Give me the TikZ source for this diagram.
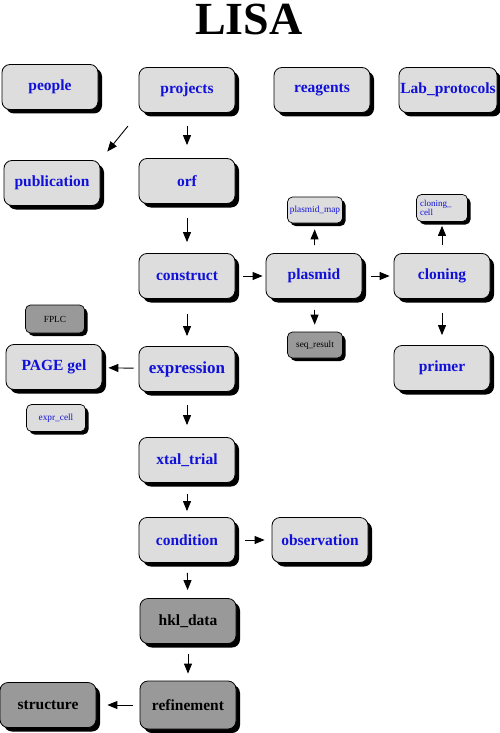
\documentclass[tikz,border=0pt]{standalone}
\usepackage{fontspec}
\setmainfont{Liberation Serif}
\usetikzlibrary{arrows.meta,shadows}
\definecolor{lightbox}{HTML}{DDDDDD}
\definecolor{darkbox}{HTML}{999999}
\definecolor{labelblue}{HTML}{1010D8}
\tikzset{
  box/.style={draw=black, line width=0.8pt, rounded corners=8pt, fill=lightbox,
    minimum width=96pt, minimum height=45pt, inner sep=1pt,
    font=\fontsize{15.5}{17}\selectfont\bfseries, text=labelblue,
    drop shadow={shadow xshift=4pt, shadow yshift=-4pt, fill=black, opacity=1}},
  darkbig/.style={box, fill=darkbox, text=black},
  small/.style={draw=black, line width=0.7pt, rounded corners=5pt, fill=lightbox,
    minimum width=55pt, minimum height=26pt, inner sep=1pt,
    font=\fontsize{9.3}{10}\selectfont, text=labelblue,
    drop shadow={shadow xshift=3pt, shadow yshift=-3pt, fill=black, opacity=1}},
  darksmall/.style={small, fill=darkbox, text=black},
  arr/.style={line width=0.9pt, -{Triangle[length=10pt,width=8pt]}},
}
\begin{document}
\begin{tikzpicture}[x=1pt,y=-1pt]
\useasboundingbox (0,0) rectangle (500,733);
\node[anchor=base, font=\fontsize{46}{50}\selectfont\bfseries] (title) at (249,35) {LISA};
% top row
\node[box] (people) at (50,87) {people};
\node[box] (projects) at (187,90) {projects};
\node[box] (reagents) at (322,90) {reagents};
\node[box, minimum width=98pt] (lab) at (448,90) {Lab\_protocols};
% second row
\node[box] (publication) at (52,183) {publication};
\node[box] (orf) at (187,181) {orf};
% construct row
\node[box] (construct) at (187,276) {construct};
\node[box] (plasmid) at (314,276) {plasmid};
\node[box] (cloning) at (442,276) {cloning};
\node[small] (plasmidmap) at (315,210) {plasmid\_map};
\node[small, minimum width=51pt, minimum height=27pt, align=left, text width=44pt, font=\fontsize{9}{8}\selectfont] (cloningcell) at (442,208) {cloning\_\\[-1pt]cell\\[5pt]};
\node[darksmall] (seqresult) at (315,345) {seq\_result};
\node[box] (primer) at (442,368) {primer};
% expression row
\node[darksmall, minimum width=59pt, minimum height=28pt] (fplc) at (55,319) {FPLC};
\node[box] (page) at (54,367) {PAGE gel};
\node[small, minimum width=59pt, minimum height=27pt] (exprcell) at (56,418) {expr\_cell};
\node[box, font=\fontsize{17}{19}\selectfont\bfseries] (expression) at (187,369) {expression};
% lower column
\node[box] (xtal) at (187,460) {xtal\_trial};
\node[box] (condition) at (187,540) {condition};
\node[box] (observation) at (320,540) {observation};
\node[darkbig] (hkl) at (188,621) {hkl\_data};
\node[darkbig, minimum height=48pt] (refinement) at (188,705) {refinement};
\node[darkbig] (structure) at (48,705) {structure};
% arrows
\draw[arr, shorten <=17pt, shorten >=11pt] (projects.south west) -- (publication.north east);
\draw[arr, shorten <=13pt, shorten >=13pt] (projects) -- (orf);
\draw[arr, shorten <=14pt, shorten >=11pt] (orf) -- (construct);
\draw[arr, shorten <=8pt, shorten >=3pt] (construct) -- (plasmid);
\draw[arr, shorten <=9pt, shorten >=4pt] (plasmid) -- (cloning);
\draw[arr, shorten <=8pt, shorten >=6pt] (plasmid) -- (plasmidmap);
\draw[arr, shorten <=11pt, shorten >=7pt] (plasmid) -- (seqresult);
\draw[arr, shorten <=8pt, shorten >=4pt] (cloning) -- (cloningcell);
\draw[arr, shorten <=14pt, shorten >=10pt] (cloning) -- (primer);
\draw[arr, shorten <=15pt, shorten >=10pt] (construct) -- (expression);
\draw[arr, shorten <=5pt, shorten >=6pt] (expression) -- (page);
\draw[arr, shorten <=13pt, shorten >=12pt] (expression) -- (xtal);
\draw[arr, shorten <=11pt, shorten >=6pt] (xtal) -- (condition);
\draw[arr, shorten <=10pt, shorten >=7pt] (condition) -- (observation);
\draw[arr, shorten <=10pt, shorten >=8pt] (condition) -- (hkl);
\draw[arr, shorten <=10pt, shorten >=7pt] (hkl) -- (refinement);
\draw[arr, shorten <=7pt, shorten >=11pt] (refinement) -- (structure);
\end{tikzpicture}
\end{document}
